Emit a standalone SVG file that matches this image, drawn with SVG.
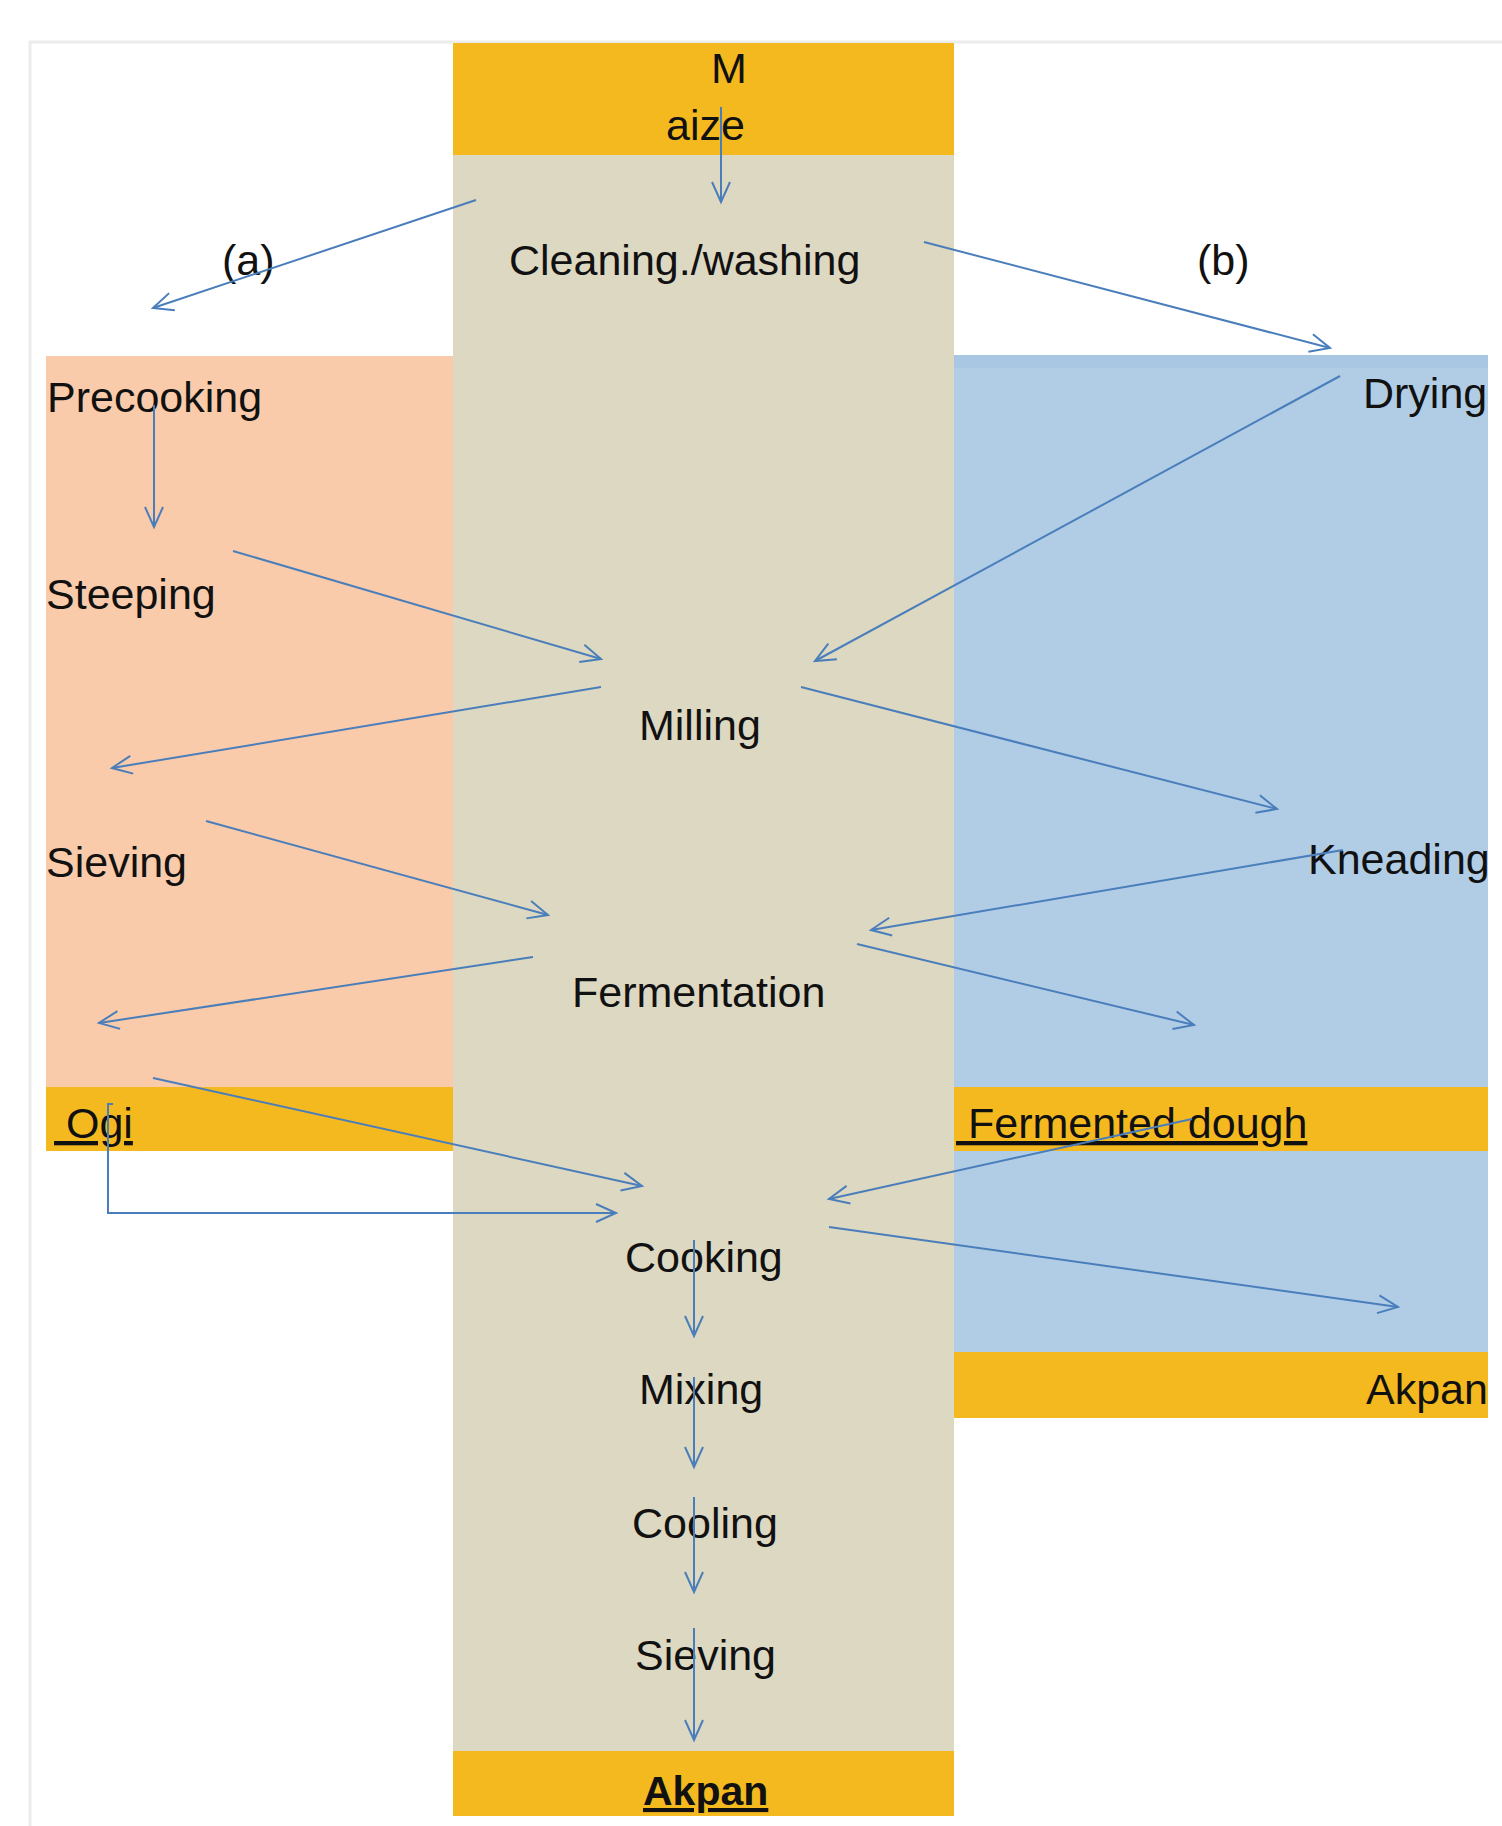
<svg xmlns="http://www.w3.org/2000/svg" width="1502" height="1826" viewBox="0 0 1502 1826">
<style>
text{font-family:"Liberation Sans",Arial,sans-serif;font-size:43px;fill:#111}
.bold{font-weight:bold;font-size:41px;text-decoration:underline}
.ul{text-decoration:underline}
.gold{fill:#F5B920}
.tan{fill:#DDD8C2}
.peach{fill:#F9CBAA}
.sky{fill:#B1CDE6}
.conn line,.conn polyline{stroke:#4A7EBB;stroke-width:2;fill:none;marker-end:url(#ah)}
</style>
<defs>
<marker id="ah" markerUnits="userSpaceOnUse" markerWidth="30" markerHeight="30" viewBox="-25 -15 30 30" refX="0" refY="0" orient="auto" overflow="visible">
<path d="M-20,-9 L0,0 L-20,9" fill="none" stroke="#4A7EBB" stroke-width="2"/>
</marker>
</defs>
<rect width="1502" height="1826" fill="#fff"/>
<g id="page-edge" stroke="#ececec" stroke-width="3" fill="none">
<path d="M30,1826 V42 H1502"/>
</g>
<g id="bands">
<rect class="tan" x="453" y="155" width="501" height="1596"/>
<rect class="gold" x="453" y="43" width="501" height="112"/>
<rect class="peach" x="46" y="356" width="407" height="731"/>
<rect class="gold" x="46" y="1087" width="407" height="64"/>
<rect class="sky" x="954" y="355" width="534" height="732"/>
<rect x="954" y="355" width="534" height="13" fill="#A9C6E3"/>
<rect class="gold" x="954" y="1087" width="534" height="64"/>
<rect class="sky" x="954" y="1151" width="534" height="201"/>
<rect class="gold" x="954" y="1352" width="534" height="66"/>
<rect class="gold" x="453" y="1751" width="501" height="65"/>
</g>
<g id="n-maize"><text x="711" y="83">M</text><text x="666" y="140">aize</text></g>
<g id="n-cleaning"><text x="509" y="275">Cleaning./washing</text></g>
<g id="n-a"><text x="222" y="275">(a)</text></g>
<g id="n-b"><text x="1197" y="275">(b)</text></g>
<g id="n-precooking"><text x="47" y="412">Precooking</text></g>
<g id="n-drying"><text x="1363" y="408">Drying</text></g>
<g id="n-steeping"><text x="46" y="609">Steeping</text></g>
<g id="n-milling"><text x="639" y="740">Milling</text></g>
<g id="n-sieving1"><text x="46" y="877">Sieving</text></g>
<g id="n-kneading"><text x="1308" y="874">Kneading</text></g>
<g id="n-fermentation"><text x="572" y="1007">Fermentation</text></g>
<g id="n-ogi"><text class="ul" x="54" y="1138" xml:space="preserve"> Ogi</text></g>
<g id="n-fdough"><text class="ul" x="956" y="1138" xml:space="preserve"> Fermented dough</text></g>
<g id="n-cooking"><text x="625" y="1272">Cooking</text></g>
<g id="n-mixing"><text x="639" y="1404">Mixing</text></g>
<g id="n-akpan-b"><text x="1366" y="1404">Akpan</text></g>
<g id="n-cooling"><text x="632" y="1538">Cooling</text></g>
<g id="n-sieving2"><text x="635" y="1670">Sieving</text></g>
<g id="n-akpan-a"><text class="bold" x="643" y="1805">Akpan</text></g>
<g id="connectors" class="conn">
<line x1="721" y1="107" x2="721" y2="202"/>
<line x1="476" y1="200" x2="153" y2="308"/>
<line x1="924" y1="242" x2="1330" y2="348"/>
<line x1="154" y1="405" x2="154" y2="527"/>
<line x1="233" y1="551" x2="601" y2="659"/>
<line x1="1340" y1="376" x2="815" y2="661"/>
<line x1="601" y1="687" x2="112" y2="768"/>
<line x1="801" y1="687" x2="1277" y2="809"/>
<line x1="206" y1="821" x2="548" y2="915"/>
<line x1="1343" y1="850" x2="871" y2="930"/>
<line x1="533" y1="957" x2="99" y2="1023"/>
<line x1="857" y1="944" x2="1194" y2="1025"/>
<line x1="153" y1="1078" x2="642" y2="1186"/>
<polyline points="113,1104 108,1104 108,1213 616,1213"/>
<line x1="1192" y1="1119" x2="829" y2="1199"/>
<line x1="829" y1="1227" x2="1398" y2="1307"/>
<line x1="694" y1="1240" x2="694" y2="1336"/>
<line x1="694" y1="1377" x2="694" y2="1467"/>
<line x1="694" y1="1497" x2="694" y2="1592"/>
<line x1="694" y1="1628" x2="694" y2="1740"/>
</g>
</svg>
